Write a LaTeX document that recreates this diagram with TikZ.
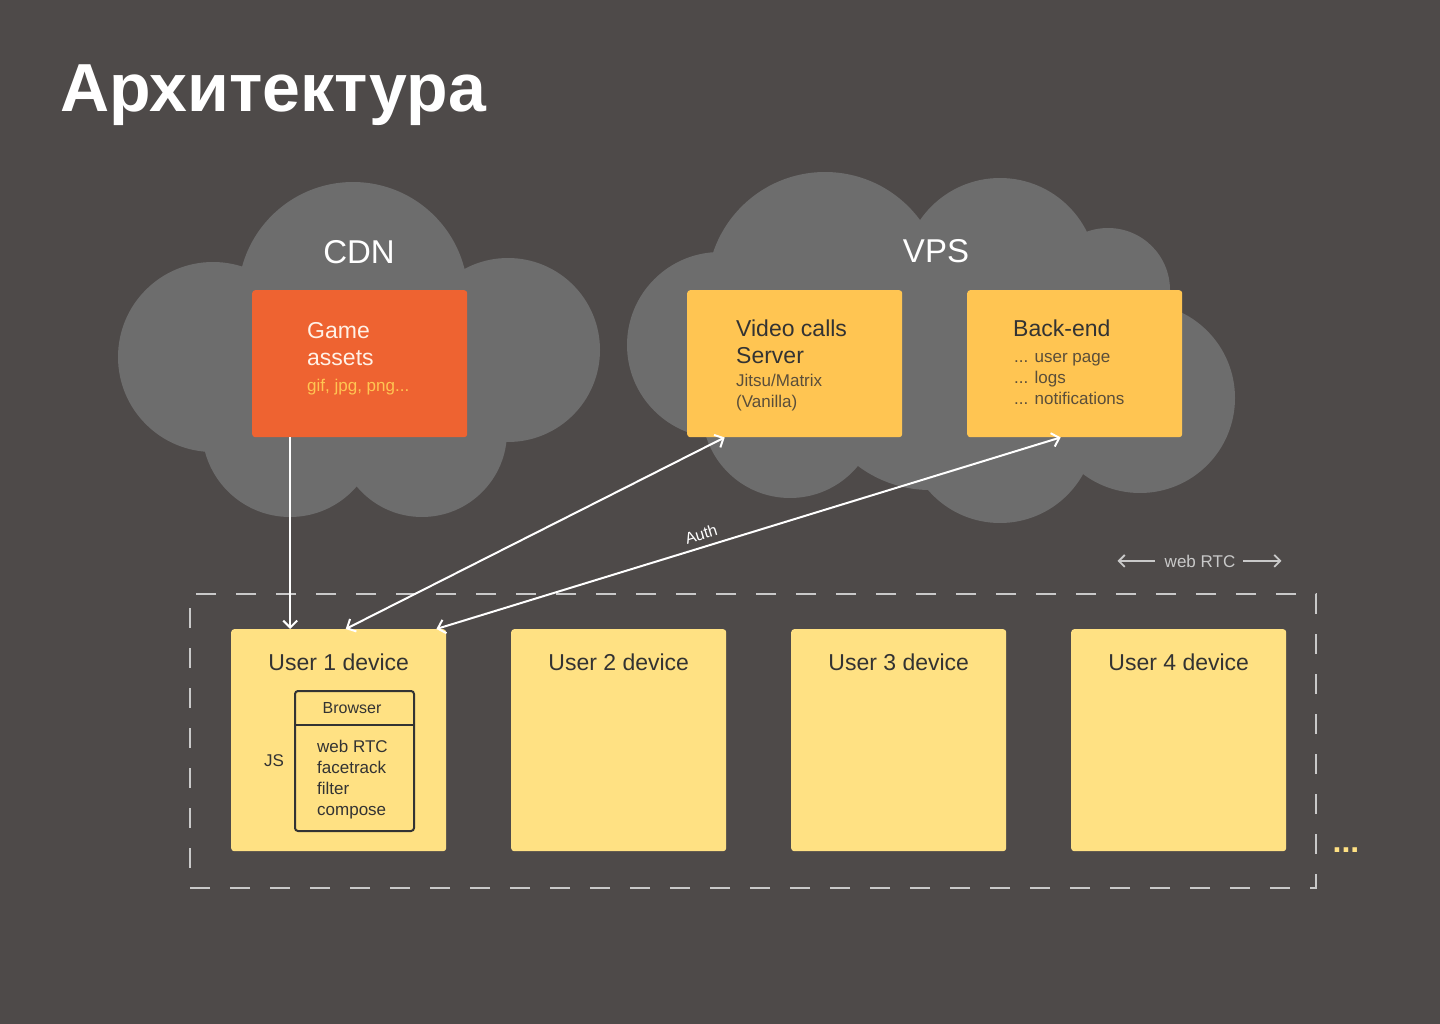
\documentclass[tikz,border=0pt]{standalone}
\usepackage{fontspec}
\setmainfont{Liberation Sans}
\usetikzlibrary{arrows.meta}
\definecolor{slate}{HTML}{4E4A49}
\definecolor{cloudgrey}{HTML}{6D6D6D}
\definecolor{cdnorange}{HTML}{EE6331}
\definecolor{vpsyellow}{HTML}{FFC552}
\definecolor{devyellow}{HTML}{FFE183}
\definecolor{darkink}{HTML}{333333}
\definecolor{softink}{HTML}{5A4E3A}
\definecolor{dashgrey}{HTML}{C9C9C9}
\definecolor{paleink}{HTML}{FFF1E6}
\begin{document}
\begin{tikzpicture}[x=1pt,y=-1pt,
  card/.style={rounded corners=3pt,minimum width=215pt,inner sep=0pt,anchor=north west},
  srvcard/.style={card,fill=vpsyellow,minimum height=147pt},
  devcard/.style={card,fill=devyellow,minimum height=222pt},
  headtxt/.style={anchor=north west,inner sep=0pt,align=left,font=\fontsize{23}{27}\selectfont},
  subtxt/.style={anchor=north west,inner sep=0pt,align=left,font=\fontsize{17}{21}\selectfont},
  devtitle/.style={anchor=base,inner sep=0pt,text=darkink,font=\fontsize{23}{26}\selectfont},
  link/.style={white,line width=2pt,-{Straight Barb[length=7pt,width=14pt]}},
  duplex/.style={link,{Straight Barb[length=7pt,width=14pt]}-{Straight Barb[length=7pt,width=14pt]}},
  rtcarrow/.style={dashgrey,line width=1.8pt,-{Straight Barb[length=6pt,width=12pt]}}]
\fill[slate] (0,0) rectangle (1440,1024);
\useasboundingbox (0,0) rectangle (1440,1024);

\node[anchor=base west,inner sep=0pt,text=white,font=\fontsize{68}{80}\selectfont\bfseries] (title) at (60,112) {Архитектура};

% clouds
\fill[cloudgrey] (213,357) circle[radius=95pt] (353,297) circle[radius=115pt]
  (508,350) circle[radius=92pt] (290,429) circle[radius=88pt]
  (422,432) circle[radius=85pt] (360,380) circle[radius=100pt];
\fill[cloudgrey] (720,345) circle[radius=93pt] (825,290) circle[radius=118pt]
  (1000,275) circle[radius=97pt] (1108,290) circle[radius=62pt]
  (1140,398) circle[radius=95pt] (1000,428) circle[radius=95pt]
  (790,410) circle[radius=88pt] (930,370) circle[radius=120pt];
\node[anchor=base,inner sep=0pt,text=white,font=\fontsize{33}{36}\selectfont] (cdn) at (359,264) {CDN};
\node[anchor=base,inner sep=0pt,text=white,font=\fontsize{33}{36}\selectfont] (vps) at (936,263) {VPS};

% servers
\node[card,fill=cdnorange,minimum height=147pt] (assets) at (252,290) {};
\node[headtxt,text=paleink] (assetst) at (307,322) {Game\\assets};
\node[subtxt,text=vpsyellow] (assetss) at (307,379) {gif, jpg, png...};
\node[srvcard] (video) at (687,290) {};
\node[headtxt,text=darkink] (videot) at (736,320) {Video calls\\Server};
\node[subtxt,text=softink] (videos) at (736,374) {Jitsu/Matrix\\(Vanilla)};
\node[srvcard] (backend) at (967,290) {};
\node[headtxt,text=darkink] (backendt) at (1013,320) {Back-end};
\node[subtxt,text=softink] (backends) at (1014,353) {... user page\\... logs\\... notifications};

% devices
\node[draw=dashgrey,line width=2pt,dash pattern=on 20pt off 20pt,minimum width=1126pt,minimum height=294pt,anchor=north west,inner sep=0pt] (devices) at (189,593) {};
\node[devcard] (user1) at (231,629) {};
\node[devcard] (user2) at (511,629) {};
\node[devcard] (user3) at (791,629) {};
\node[devcard] (user4) at (1071,629) {};
\node[devtitle] (user1t) at ([yshift=-41pt]user1.north) {User 1 device};
\node[devtitle] (user2t) at ([yshift=-41pt]user2.north) {User 2 device};
\node[devtitle] (user3t) at ([yshift=-41pt]user3.north) {User 3 device};
\node[devtitle] (user4t) at ([yshift=-41pt]user4.north) {User 4 device};
\node[draw=darkink,line width=2pt,rounded corners=3pt,minimum width=119pt,minimum height=140pt,anchor=north west,inner sep=0pt] (browser) at (294,690) {};
\draw[darkink,line width=2pt] (browser.west |- 0,725) -- (browser.east |- 0,725);
\node[anchor=base,inner sep=0pt,text=darkink,font=\fontsize{16}{18}\selectfont] (browsert) at (352,713) {Browser};
\node[subtxt,text=darkink] (browsers) at (317,740) {web RTC\\facetrack\\filter\\compose};
\node[anchor=base west,inner sep=0pt,text=darkink,font=\fontsize{17}{20}\selectfont] (jsnote) at (264,766) {JS};

\node[anchor=base,inner sep=0pt,text=dashgrey,font=\fontsize{17}{20}\selectfont] (rtc) at (1200,567) {web RTC};
\draw[rtcarrow] ([xshift=-10pt]rtc.west) -- ++(-37,0);
\draw[rtcarrow] ([xshift=8pt]rtc.east) -- ++(38,0);
\node[anchor=base,inner sep=0pt,text=devyellow,font=\fontsize{32}{32}\selectfont\bfseries] (more) at (1346,852) {...};

% connectors
\draw[link] ([xshift=-69.5pt]assets.south) -- ([xshift=-69.5pt]assets.south |- user1.north);
\draw[duplex] ([xshift=7pt]user1.north) -- ([xshift=-70pt]video.south);
\draw[duplex] ([xshift=-10pt]user1.north east) -- node[sloped,above,pos=0.43,inner sep=6pt,text=white,font=\fontsize{16}{18}\selectfont] (auth) {Auth} ([xshift=-14pt]backend.south);
\end{tikzpicture}
\end{document}
